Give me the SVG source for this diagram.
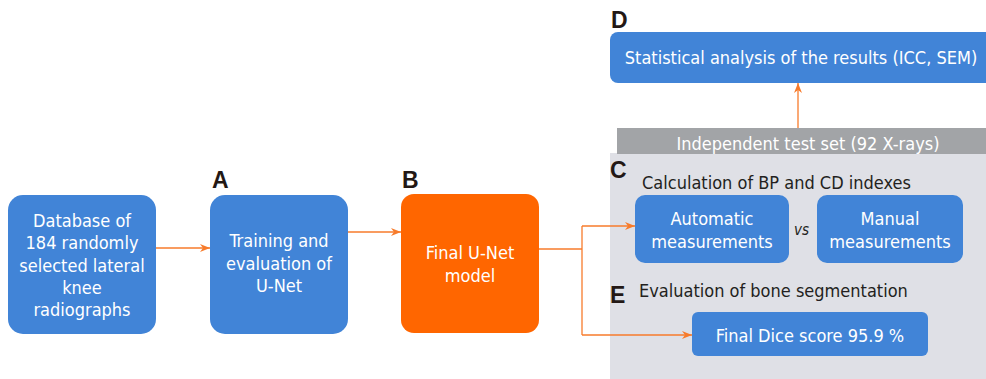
<svg xmlns="http://www.w3.org/2000/svg" width="986" height="379" viewBox="0 0 986 379">
<defs>
<style>
.box{fill:#4184d7}
.obox{fill:#ff6600}
.t{font-family:"DejaVu Sans Condensed","DejaVu Sans",sans-serif;font-stretch:condensed;font-size:18px;fill:#ffffff;text-anchor:middle}
.d{font-family:"DejaVu Sans Condensed","DejaVu Sans",sans-serif;font-stretch:condensed;font-size:18px;fill:#231f20}
.lab{font-family:"Liberation Sans",Arial,sans-serif;font-weight:bold;font-size:23px;fill:#231815}
.c{fill:none;stroke:#f77b2b;stroke-width:1.3}
</style>
<marker id="ah" viewBox="0 0 10 10" refX="10" refY="5" markerWidth="10" markerHeight="10" markerUnits="userSpaceOnUse" orient="auto">
<path d="M0,1 L10,5 L0,9 L3,5 Z" fill="#f77b2b"/>
</marker>
</defs>
<rect width="986" height="379" fill="#ffffff"/>
<g id="panel">
<rect x="610" y="153" width="376" height="226" fill="#dfe0e6"/>
<rect x="617" y="128" width="369" height="26" fill="#a2a4a7"/>
<text class="t" x="808" y="150">Independent test set (92 X-rays)</text>
<text class="lab" x="610" y="178">C</text>
<text class="d" x="642" y="189">Calculation of BP and CD indexes</text>
<text class="lab" x="610" y="303">E</text>
<text class="d" x="639" y="297">Evaluation of bone segmentation</text>
<text x="794" y="235" font-family="DejaVu Sans Condensed,DejaVu Sans,sans-serif" font-stretch="condensed" font-style="italic" font-size="15" fill="#231f20">vs</text>
</g>
<g id="database">
<rect class="box" x="8" y="195" width="148" height="139" rx="15"/>
<text class="t" x="82" y="227">Database of</text>
<text class="t" x="82" y="249">184 randomly</text>
<text class="t" x="82" y="272">selected lateral</text>
<text class="t" x="82" y="294">knee</text>
<text class="t" x="82" y="316">radiographs</text>
</g>
<g id="nodeA">
<text class="lab" x="212" y="188">A</text>
<rect class="box" x="210" y="195" width="138" height="139" rx="15"/>
<text class="t" x="279" y="247">Training and</text>
<text class="t" x="279" y="270">evaluation of</text>
<text class="t" x="279" y="292">U-Net</text>
</g>
<g id="nodeB">
<text class="lab" x="402" y="188">B</text>
<rect class="obox" x="401" y="194" width="138" height="139" rx="13"/>
<text class="t" x="470" y="259">Final U-Net</text>
<text class="t" x="470" y="282">model</text>
</g>
<g id="nodeD">
<text class="lab" x="611" y="28">D</text>
<rect class="box" x="610" y="32" width="390" height="51" rx="8"/>
<text class="t" x="801" y="64">Statistical analysis of the results (ICC, SEM)</text>
</g>
<g id="auto">
<rect class="box" x="635" y="195" width="154" height="68" rx="10"/>
<text class="t" x="712" y="225">Automatic</text>
<text class="t" x="712" y="248">measurements</text>
</g>
<g id="manual">
<rect class="box" x="817" y="195" width="146" height="68" rx="10"/>
<text class="t" x="890" y="225">Manual</text>
<text class="t" x="890" y="248">measurements</text>
</g>
<g id="dice">
<rect class="box" x="692" y="312" width="236" height="44" rx="6"/>
<text class="t" x="810" y="342">Final Dice score 95.9 %</text>
</g>
<g id="connectors">
<line class="c" x1="156" y1="248" x2="210" y2="248" marker-end="url(#ah)"/>
<line class="c" x1="348" y1="232" x2="401" y2="232" marker-end="url(#ah)"/>
<polyline class="c" points="539,249 582,249"/>
<polyline class="c" points="582,226 582,335"/>
<line class="c" x1="582" y1="226" x2="635" y2="226" marker-end="url(#ah)"/>
<line class="c" x1="582" y1="335" x2="692" y2="335" marker-end="url(#ah)"/>
<line class="c" x1="798" y1="128" x2="798" y2="83" marker-end="url(#ah)"/>
</g>
</svg>
